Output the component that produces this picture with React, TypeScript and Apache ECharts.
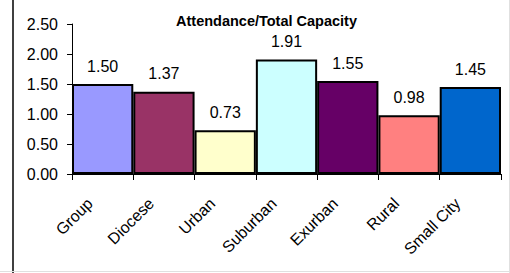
import React, { useEffect, useRef } from "react";
import * as echarts from "echarts";

const categories = ["Group", "Diocese", "Urban", "Suburban", "Exurban", "Rural", "Small City"];
const values = [1.5, 1.37, 0.73, 1.91, 1.55, 0.98, 1.45];
const barColors = ["#9999FF", "#993366", "#FFFFCC", "#CCFFFF", "#660066", "#FF8080", "#0066CC"];
const titleText = "Attendance/Total Capacity";

export default function App() {
  const ref = useRef<HTMLDivElement>(null);
  useEffect(() => {
    if (!ref.current) return;
    const chart = echarts.init(ref.current, undefined, { renderer: "svg" });
    chart.setOption({
      animation: false,
      backgroundColor: "#ffffff",
      title: {
        text: titleText,
        left: 171,
        top: 8,
        textStyle: { fontFamily: "Liberation Sans, Arial", fontSize: 14.5, fontWeight: "bold", color: "#000" },
      },
      grid: { left: 72, right: 9, top: 24, bottom: 99, containLabel: false },
      xAxis: {
        type: "category",
        data: categories,
        boundaryGap: true,
        axisLine: { lineStyle: { color: "#000", width: 1 } },
        axisTick: { show: true, alignWithLabel: false, length: 6, lineStyle: { color: "#000" } },
        axisLabel: {
          rotate: 45,
          margin: 14,
          padding: [0, 18, 0, 0],
          interval: 0,
          fontFamily: "Liberation Sans, Arial",
          fontSize: 16,
          color: "#000",
        },
      },
      yAxis: {
        type: "value",
        min: 0,
        max: 2.5,
        interval: 0.5,
        splitLine: { show: false },
        axisLine: { show: true, lineStyle: { color: "#000", width: 1 } },
        axisTick: { show: true, length: 5, lineStyle: { color: "#000" } },
        axisLabel: {
          margin: 14,
          fontFamily: "Liberation Sans, Arial",
          fontSize: 16,
          color: "#000",
          formatter: (v: number) => v.toFixed(2),
        },
      },
      series: [
        {
          type: "bar",
          barCategoryGap: "0%",
          data: values.map((v, i) => ({
            value: v,
            itemStyle: { color: barColors[i], borderColor: "#000", borderWidth: 2 },
          })),
          label: {
            show: true,
            position: "top",
            distance: 10,
            fontFamily: "Liberation Sans, Arial",
            fontSize: 16,
            color: "#000",
            formatter: (p: any) => Number(p.value).toFixed(2),
          },
        },
      ],
      graphic: [
        { type: "line", shape: { x1: 13, y1: 0, x2: 13, y2: 273 }, style: { stroke: "#000", lineWidth: 1.5 } },
        { type: "line", shape: { x1: 509.5, y1: 0, x2: 509.5, y2: 273 }, style: { stroke: "#e0e0e0", lineWidth: 1 } },
        { type: "line", shape: { x1: 0, y1: 271.5, x2: 510, y2: 271.5 }, style: { stroke: "#e0e0e0", lineWidth: 1 } },
      ],
    });
    return () => chart.dispose();
  }, []);
  return <div ref={ref} style={{ position: "absolute", left: 0, top: 0, width: 510, height: 273 }} />;
}
